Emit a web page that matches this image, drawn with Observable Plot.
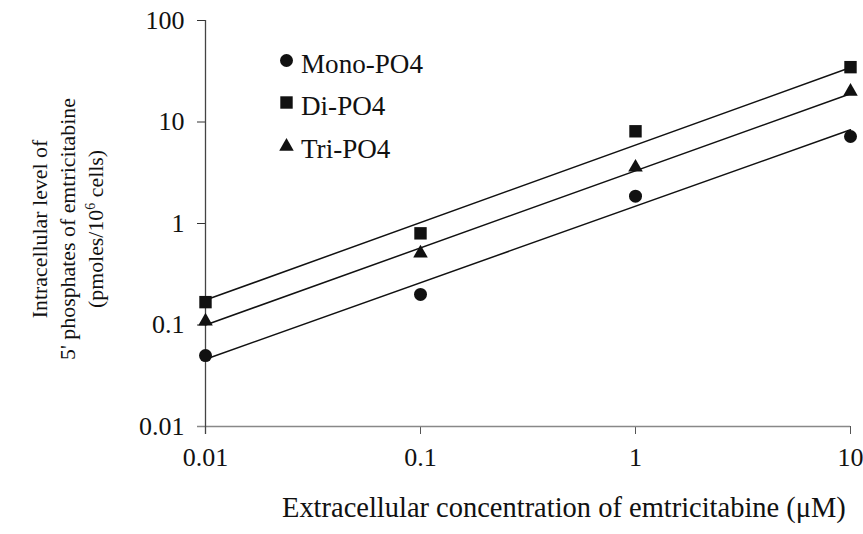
<!DOCTYPE html>
<html><head><meta charset="utf-8">
<script src="https://cdn.jsdelivr.net/npm/d3@7"></script>
<script src="https://cdn.jsdelivr.net/npm/@observablehq/plot@0.6"></script>
<style>
body{margin:0;background:#fff}
svg, svg text, svg tspan{font-family:"Liberation Serif","Times New Roman",serif !important}
</style>
</head><body><div id="chart"></div>
<script>
// Data
const concentrations = [0.01, 0.1, 1, 10];
const monoPO4 = [0.05, 0.2, 1.86, 7.2];
const diPO4 = [0.168, 0.8, 8.1, 34.7];
const triPO4 = [0.109, 0.51, 3.58, 20];
// fitted lines (end values)
const fitX = [0.01, 10];
const monoFit = [0.046, 8.4];
const diFit = [0.176, 34.4];
const triFit = [0.1, 19];
const seriesNames = ["Mono-PO4", "Di-PO4", "Tri-PO4"];
const seriesSymbols = ["circle", "square", "triangle"];
const xTicks = [0.01, 0.1, 1, 10];
const yTicks = [0.01, 0.1, 1, 10, 100];
const xTickLabels = ["0.01", "0.1", "1", "10"];
const yTickLabels = ["0.01", "0.1", "1", "10", "100"];

const SERIF = '"Liberation Serif","Times New Roman",serif';
const values = [monoPO4, diPO4, triPO4];
const fits = [monoFit, diFit, triFit];
const symbolR = [6.5, 7, 5.4];
const points = values.map((arr, s) => arr.map((v, i) => ({series: seriesNames[s], x: concentrations[i], y: v})));
const lines = fits.flatMap((arr, s) => arr.map((v, i) => ({series: seriesNames[s], x: fitX[i], y: v})));

const legendDy = [40, 82, 126];
const legendMarks = seriesNames.map((name, i) =>
  Plot.dot([name], {frameAnchor: "top-left", dx: 81, dy: legendDy[i], symbol: () => seriesSymbols[i], r: symbolR[i], fill: "#111", stroke: "none"})
);

const chart = Plot.plot({
  width: 863, height: 534,
  marginLeft: 205, marginRight: 13, marginTop: 20, marginBottom: 108,
  style: {color: "#111", background: "#fff", fontFamily: SERIF},
  x: {type: "log", domain: [0.01, 10]},
  y: {type: "log", domain: [0.01, 100]},
  marks: [
    Plot.axisX({ticks: xTicks, tickFormat: () => "", tickSize: 8, label: null, stroke: "#555"}),
    Plot.axisY({ticks: yTicks, tickFormat: () => "", tickSize: 8, label: null, stroke: "#333"}),
    Plot.text(xTicks, {x: d => d, frameAnchor: "bottom", dy: 39, text: (d, i) => xTickLabels[i], fontSize: 26, fill: "#111"}),
    Plot.text(yTicks, {y: d => d, frameAnchor: "left", dx: -21, textAnchor: "end", text: (d, i) => yTickLabels[i], fontSize: 26, fill: "#111"}),
    Plot.ruleY([0.01], {insetLeft: -8, stroke: "#888", strokeWidth: 1.3}),
    Plot.ruleX([0.01], {insetBottom: -8, stroke: "#444", strokeWidth: 1.3}),
    Plot.line(lines, {x: "x", y: "y", z: "series", stroke: "#111", strokeWidth: 1.5}),
    ...points.map((pts, s) => Plot.dot(pts, {x: "x", y: "y", symbol: () => seriesSymbols[s], r: symbolR[s], fill: "#111", stroke: "none"})),
    ...legendMarks
  ]
});
document.getElementById("chart").appendChild(chart);

const svg = d3.select(chart);
function fitSize(sel, target) {
  const w = sel.node().getComputedTextLength();
  const fs = +sel.attr("font-size");
  if (w > 0) sel.attr("font-size", (fs * target / w).toFixed(2));
}

// Legend labels
const legendBaseline = [73, 115, 158];
const legendTexts = seriesNames.map((name, i) =>
  svg.append("text").attr("x", 301).attr("y", legendBaseline[i])
    .attr("text-anchor", "start").style("font-family", SERIF, "important")
    .attr("font-size", 27).attr("fill", "#111").text(name)
);
fitSize(legendTexts[0], 122);
legendTexts.slice(1).forEach(t => t.attr("font-size", legendTexts[0].attr("font-size")));

// Axis titles
const xTitle = svg.append("text")
  .attr("x", 282).attr("y", 517)
  .attr("text-anchor", "start").style("font-family", SERIF, "important")
  .attr("font-size", 28).attr("fill", "#111")
  .text("Extracellular concentration of emtricitabine (\u03BCM)");
fitSize(xTitle, 564);

const yTitle = svg.append("text")
  .attr("transform", "translate(0,229) rotate(-90)")
  .attr("text-anchor", "middle").style("font-family", SERIF, "important")
  .attr("font-size", 22).attr("fill", "#111");
yTitle.append("tspan").attr("x", 0).attr("y", 47).text("Intracellular level of");
const line2 = yTitle.append("tspan").attr("x", 0).attr("y", 75).text("5' phosphates of emtricitabine");
const l3 = yTitle.append("tspan").attr("x", 0).attr("y", 103);
l3.append("tspan").text("(pmoles/10");
l3.append("tspan").attr("dy", -8).attr("font-size", 14).text("6");
l3.append("tspan").attr("dy", 8).text(" cells)");
const w2 = line2.node().getComputedTextLength();
if (w2 > 0) yTitle.attr("font-size", (22 * 262 / w2).toFixed(2));
svg.selectAll("text").style("font-family", SERIF, "important");
</script>
</body></html>
